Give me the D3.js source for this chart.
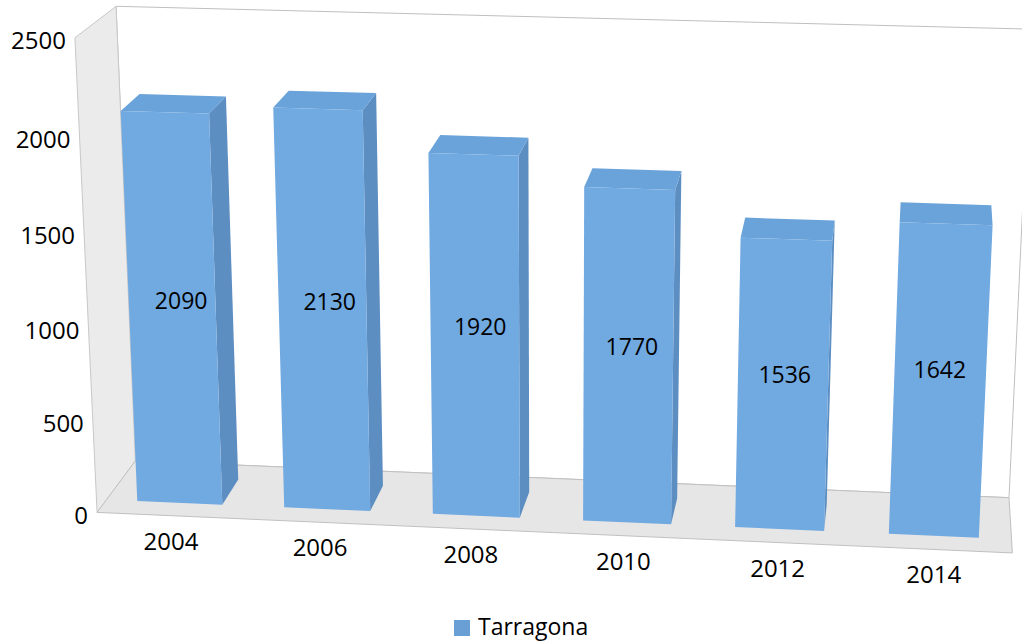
<!DOCTYPE html>
<meta charset="utf-8">
<style>
body{margin:0;background:#fff;}
svg{display:block;font-family:"Open Sans",sans-serif;}
</style>
<body>
<script src="https://cdn.jsdelivr.net/npm/d3@7"></script>
<script>
var years = ["2004","2006","2008","2010","2012","2014"];
var values = [2090,2130,1920,1770,1536,1642];
var yTicks = [0,500,1000,1500,2000,2500];
var seriesName = "Tarragona";

var W = 1022, H = 642;
var gap = 0.21, zFront = 0.24, zBack = 0.72;   // bar gap (per category) and depth slot

// screen positions of the plot box corners (world x 0..6, y 0..1, z 0 front .. 1 back)
var frame = [
  {w:[0,0,0], s:[97.1,512.4]},
  {w:[6,0,0], s:[1012.4,552.9]},
  {w:[6,0,1], s:[1009.0,497.7]},
  {w:[0,0,1], s:[135.4,460.8]},
  {w:[0,1,0], s:[74.9,37.8]},
  {w:[6,1,0], s:[1035.7,63.0]},
  {w:[6,1,1], s:[1031.0,29.1]},
  {w:[0,1,1], s:[116.1,6.3]}
];

// perspective camera fitted to the frame corners (DLT, least squares)
function fitProjection(pts){
  var n = 11, M = d3.range(n).map(function(){ return d3.range(n+1).map(function(){ return 0; }); });
  pts.forEach(function(p){
    var X=p.w[0], Y=p.w[1], Z=p.w[2], u=(p.s[0]-511)/500, v=(p.s[1]-321)/500;
    [[[X,Y,Z,1,0,0,0,0,-u*X,-u*Y,-u*Z],u],[[0,0,0,0,X,Y,Z,1,-v*X,-v*Y,-v*Z],v]].forEach(function(rr){
      var r=rr[0];
      for(var i=0;i<n;i++){ for(var j=0;j<n;j++) M[i][j]+=r[i]*r[j]; M[i][n]+=r[i]*rr[1]; }
    });
  });
  for(var c=0;c<n;c++){
    var piv=c; for(var r=c+1;r<n;r++) if(Math.abs(M[r][c])>Math.abs(M[piv][c])) piv=r;
    var t=M[c]; M[c]=M[piv]; M[piv]=t;
    for(var r2=0;r2<n;r2++){ if(r2==c) continue; var f=M[r2][c]/M[c][c]; for(var k=c;k<=n;k++) M[r2][k]-=f*M[c][k]; }
  }
  return M.map(function(row,i){ return row[n]/row[i]; });
}
var P = fitProjection(frame);
function pt(X,Y,Z){
  var w = P[8]*X+P[9]*Y+P[10]*Z+1;
  return [(P[0]*X+P[1]*Y+P[2]*Z+P[3])/w*500+511, (P[4]*X+P[5]*Y+P[6]*Z+P[7])/w*500+321];
}
function poly(a){ return "M"+a.map(function(c){ return pt(c[0],c[1],c[2]).join(","); }).join("L")+"Z"; }
function area(a){ return d3.polygonArea(a.map(function(c){ return pt(c[0],c[1],c[2]); })); }

var x = d3.scaleBand().domain(years).range([0,6]).paddingInner(2*gap).paddingOuter(gap);
var y = d3.scaleLinear().domain([0,2500]).range([0,1]);

var svg = d3.select("body").append("svg").attr("width",W).attr("height",H);
svg.append("rect").attr("width",W).attr("height",H).attr("fill","#fff");

// walls and floor
var box = svg.append("g");
box.append("path").attr("d",poly([[0,0,1],[6,0,1],[6,1,1],[0,1,1]])).attr("fill","#fff").attr("stroke","#bfbfbf");
box.append("path").attr("d",poly([[0,0,0],[0,1,0],[0,1,1],[0,0,1]])).attr("fill","#ebebeb").attr("stroke","#c8c8c8");
box.append("path").attr("d",poly([[0,0,0],[6,0,0],[6,0,1],[0,0,1]])).attr("fill","#e6e6e6").attr("stroke","#c0c0c0");

// bars: sides, top, front (only faces turned to the camera)
var bars = svg.append("g").selectAll("g").data(years).join("g");
bars.each(function(d,i){
  var L=x(d), R=x(d)+x.bandwidth(), T=y(values[i]), gSel=d3.select(this);
  var faces = [
    {c:[[R,0,zFront],[R,0,zBack],[R,T,zBack],[R,T,zFront]], f:"#5d8ec2"},
    {c:[[L,0,zBack],[L,0,zFront],[L,T,zFront],[L,T,zBack]], f:"#5d8ec2"},
    {c:[[L,T,zFront],[R,T,zFront],[R,T,zBack],[L,T,zBack]], f:"#6aa3d9"},
    {c:[[L,0,zFront],[R,0,zFront],[R,T,zFront],[L,T,zFront]], f:"#71a9e1"}
  ];
  faces.forEach(function(fc){
    if(area(fc.c) > 0) gSel.append("path").attr("d",poly(fc.c)).attr("fill",fc.f);
  });
});

// data labels in the middle of each bar
svg.append("g").selectAll("text").data(years).join("text")
  .attr("x",function(d,i){ return pt(x(d)+x.bandwidth()/2, y(values[i])/2, (zFront+zBack)/2)[0]; })
  .attr("y",function(d,i){ return pt(x(d)+x.bandwidth()/2, y(values[i])/2, (zFront+zBack)/2)[1]; })
  .attr("dy","0.35em").attr("text-anchor","middle").attr("font-size",23).attr("fill","#000")
  .text(function(d,i){ return values[i]; });

// value axis
svg.append("g").selectAll("text").data(yTicks).join("text")
  .attr("x",function(d){ return pt(0,y(d),0)[0]-9; })
  .attr("y",function(d){ return pt(0,y(d),0)[1]+3; })
  .attr("dy","0.35em").attr("text-anchor","end").attr("font-size",24)
  .text(function(d){ return d; });

// category axis
svg.append("g").selectAll("text").data(years).join("text")
  .attr("x",function(d){ return pt(x(d)+x.bandwidth()/2,0,0)[0]; })
  .attr("y",function(d){ return pt(x(d)+x.bandwidth()/2,0,0)[1]+34; })
  .attr("text-anchor","middle").attr("font-size",24)
  .text(function(d){ return d; });

var legend = svg.append("g").attr("transform","translate(454,620)");
legend.append("rect").attr("width",16).attr("height",16).attr("fill","#6a9fd6");
legend.append("text").attr("x",24).attr("y",15).attr("font-size",23).text(seriesName);
</script>
</body>
